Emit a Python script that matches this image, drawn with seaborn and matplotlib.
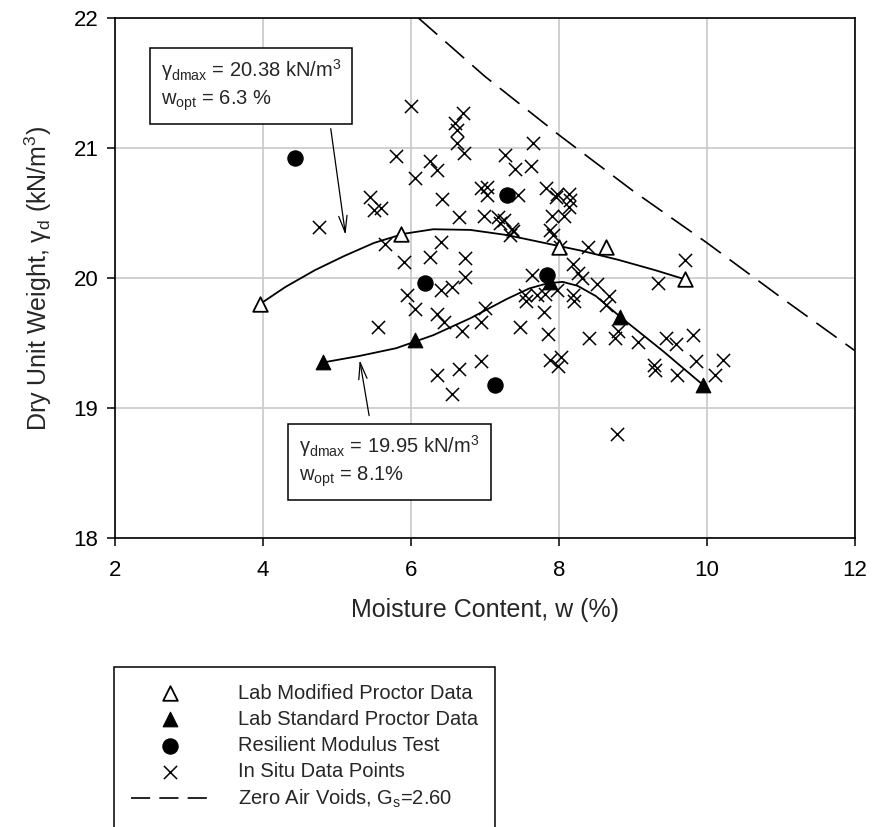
import matplotlib
matplotlib.use("Agg")
import matplotlib.pyplot as plt
from matplotlib.lines import Line2D
import seaborn as sns

# Lab modified proctor data (open triangles)
mod_w = [3.96, 5.87, 8.00, 8.64, 9.70]
mod_g = [19.80, 20.34, 20.24, 20.24, 19.99]
# fitted curve through modified proctor data
mod_curve_w = [3.96, 4.3, 4.7, 5.1, 5.5, 5.9, 6.3, 6.8, 7.3, 7.8, 8.3, 8.8, 9.3, 9.70]
mod_curve_g = [19.80, 19.93, 20.06, 20.17, 20.27, 20.34, 20.375, 20.37, 20.33, 20.27, 20.21, 20.14, 20.06, 19.99]

# Lab standard proctor data (filled triangles)
std_w = [4.81, 6.05, 7.88, 8.83, 9.94]
std_g = [19.35, 19.52, 19.97, 19.70, 19.18]
std_curve_w = [4.81, 5.3, 5.8, 6.3, 6.8, 7.3, 7.6, 7.85, 8.05, 8.25, 8.5, 8.83, 9.4, 9.94]
std_curve_g = [19.35, 19.40, 19.46, 19.56, 19.69, 19.84, 19.92, 19.96, 19.97, 19.94, 19.86, 19.70, 19.44, 19.18]

# Resilient modulus test specimens
mr_w = [4.43, 6.19, 7.30, 7.84, 7.14]
mr_g = [20.92, 19.96, 20.64, 20.02, 19.18]

# In situ data points
insitu_w = [4.75, 5.45, 5.50, 5.59, 5.80, 6.05, 6.25, 6.35, 6.42, 6.62, 6.71, 6.62, 6.00, 6.70,
            6.60, 6.95, 7.03, 7.02, 6.98, 6.65, 7.18, 7.25, 7.20, 7.36, 7.38, 7.34, 7.27, 7.41,
            7.62, 7.65, 7.44, 7.83, 7.97, 7.96, 8.14, 8.15, 8.14, 7.90, 8.07, 7.88, 7.92, 8.01,
            8.39, 8.19, 8.26, 8.31, 7.63, 8.51, 9.34, 9.70, 8.67, 8.64, 5.65, 5.90, 6.40, 6.25,
            6.73, 6.73, 6.41, 6.55, 5.95, 6.05, 6.35, 6.45, 6.69, 6.95, 7.00, 5.55, 6.95, 6.65,
            6.35, 6.55, 7.54, 7.56, 7.70, 7.81, 7.97, 7.80, 8.19, 8.20, 7.47, 7.85, 8.40, 8.76,
            8.80, 9.07, 7.88, 8.03, 7.99, 9.28, 9.30, 9.45, 9.58, 9.81, 9.60, 9.85, 10.11, 10.21,
            8.78]
insitu_g = [20.39, 20.62, 20.52, 20.54, 20.94, 20.77, 20.90, 20.83, 20.61, 21.04, 20.96, 21.14, 21.32, 21.27,
            21.19, 20.69, 20.70, 20.64, 20.48, 20.47, 20.47, 20.45, 20.42, 20.38, 20.36, 20.33, 20.95, 20.84,
            20.86, 21.04, 20.64, 20.69, 20.65, 20.62, 20.65, 20.60, 20.55, 20.48, 20.48, 20.37, 20.33, 20.24,
            20.24, 20.11, 20.04, 20.00, 20.02, 19.95, 19.96, 20.14, 19.86, 19.79, 20.26, 20.12, 20.28, 20.16,
            20.15, 20.01, 19.91, 19.93, 19.87, 19.76, 19.72, 19.66, 19.59, 19.66, 19.77, 19.62, 19.36, 19.30,
            19.25, 19.11, 19.87, 19.82, 19.87, 19.88, 19.91, 19.74, 19.87, 19.82, 19.62, 19.57, 19.54, 19.54,
            19.59, 19.51, 19.37, 19.39, 19.32, 19.33, 19.29, 19.54, 19.49, 19.56, 19.25, 19.36, 19.25, 19.37,
            18.80]

# Zero air voids line, Gs = 2.60
zav_w = [6.1, 7.0, 8.0, 9.0, 10.0, 11.0, 12.0]
zav_g = [22.0, 21.55, 21.10, 20.67, 20.27, 19.85, 19.44]

sns.set_style("ticks")
plt.rcParams["font.family"] = ["Liberation Sans", "DejaVu Sans"]
plt.rcParams["mathtext.fontset"] = "custom"
plt.rcParams["mathtext.rm"] = "Liberation Sans"
plt.rcParams["mathtext.it"] = "Liberation Sans:italic"

zav_label = "Zero Air Voids, G$_{\\rm s}$=2.60"

fig = plt.figure(figsize=(8.74, 8.27), dpi=100)
ax = fig.add_axes([0.1316, 0.3495, 0.8467, 0.6287])

sns.lineplot(x=mod_curve_w, y=mod_curve_g, sort=False, estimator=None, color="black", linewidth=1.3, ax=ax)
sns.lineplot(x=std_curve_w, y=std_curve_g, sort=False, estimator=None, color="black", linewidth=1.3, ax=ax)
sns.lineplot(x=zav_w, y=zav_g, sort=False, estimator=None, color="black", linewidth=1.2,
             dashes=False, ax=ax, label=zav_label)
ax.lines[-1].set_dashes([15, 6.5])

sns.scatterplot(x=insitu_w, y=insitu_g, marker="x", color="black", s=90, linewidth=1.1, ax=ax,
                label="In Situ Data Points", zorder=3)
sns.scatterplot(x=mod_w, y=mod_g, marker="^", facecolor="white", edgecolor="black", s=110,
                linewidth=1.3, ax=ax, label="Lab Modified Proctor Data", zorder=4)
sns.scatterplot(x=std_w, y=std_g, marker="^", color="black", edgecolor="black", s=110,
                ax=ax, label="Lab Standard Proctor Data", zorder=4)
sns.scatterplot(x=mr_w, y=mr_g, marker="o", color="black", edgecolor="black", s=120,
                ax=ax, label="Resilient Modulus Test", zorder=4)

ax.set_xlim(2, 12)
ax.set_ylim(18, 22)
ax.set_xticks([2, 4, 6, 8, 10, 12])
ax.set_yticks([18, 19, 20, 21, 22])
ax.grid(True, color="#c8c8c8", linewidth=1.2)
ax.set_axisbelow(True)
for sp in ax.spines.values():
    sp.set_color("black")
    sp.set_linewidth(1.2)
ax.tick_params(direction="out", length=6, width=1.1, colors="black", labelsize=16)
ax.tick_params(axis="x", pad=10)
ax.tick_params(axis="y", pad=6)
ax.set_xlabel("Moisture Content, w (%)", fontsize=18, labelpad=12)
ax.set_ylabel("Dry Unit Weight, γ$_{\\rm d}$ (kN/m$^{3}$)", fontsize=18, labelpad=14)

box = dict(boxstyle="square,pad=0.55", facecolor="white", edgecolor="black", linewidth=1.1)
ax.annotate("", xy=(5.12, 20.31), xytext=(4.91, 21.17),
            arrowprops=dict(arrowstyle="->,head_length=1.2,head_width=0.3", color="black", lw=0.9))
ax.text(2.62, 21.485, "γ$_{\\rm dmax}$ = 20.38 kN/m$^3$\nw$_{\\rm opt}$ = 6.3 %", fontsize=14.5,
        va="center", ha="left", bbox=box, linespacing=1.35, zorder=5)
ax.annotate("", xy=(5.30, 19.39), xytext=(5.44, 18.92),
            arrowprops=dict(arrowstyle="->,head_length=1.2,head_width=0.3", color="black", lw=0.9))
ax.text(4.49, 18.59, "γ$_{\\rm dmax}$ = 19.95 kN/m$^3$\nw$_{\\rm opt}$ = 8.1%", fontsize=14.5,
        va="center", ha="left", bbox=box, linespacing=1.35, zorder=5)

handles, labels = ax.get_legend_handles_labels()
lookup = dict(zip(labels, handles))
order = ["Lab Modified Proctor Data", "Lab Standard Proctor Data", "Resilient Modulus Test",
         "In Situ Data Points", zav_label]
ax.get_legend().remove()
# blank row so the legend box runs off the bottom of the figure, as in the original
blank = Line2D([], [], linestyle="none")
leg = fig.legend([lookup[k] for k in order] + [blank], order + [" "], loc="upper left",
                 bbox_to_anchor=(0.1304, 0.1935), frameon=True, fancybox=False,
                 edgecolor="black", framealpha=1, fontsize=14.5, borderpad=0.83,
                 handlelength=3.9, handletextpad=1.45, labelspacing=0.35, borderaxespad=0)
leg.get_frame().set_linewidth(1.1)
leg.get_lines()[-2].set_dashes([11.5, 5.5])

fig.savefig("out.png", dpi=100)
